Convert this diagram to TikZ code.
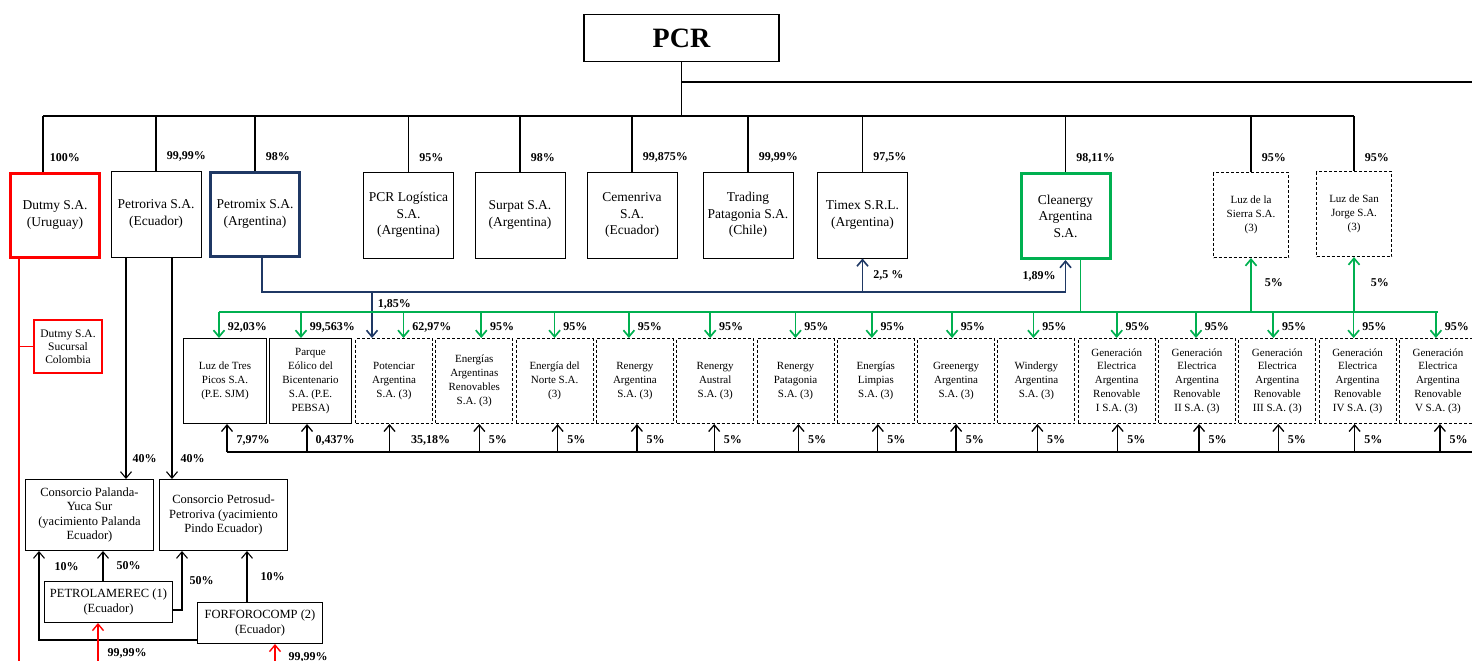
\documentclass[tikz,border=0pt]{standalone}
\usepackage{fontspec}
\setmainfont{Liberation Serif}
\usetikzlibrary{arrows.meta,positioning}
\definecolor{pcrnavy}{RGB}{31,56,100}
\definecolor{pcrgreen}{RGB}{0,176,80}
\definecolor{pcrred}{RGB}{255,0,0}
\tikzset{>={Straight Barb[length=6.5pt,width=11pt]}}
\tikzset{firm/.style={draw,line width=1pt,align=center,inner sep=2pt,minimum width=90pt,minimum height=86pt,font=\fontsize{13.5}{16.5}\selectfont},
         sub/.style={draw,line width=1pt,dash pattern=on 3pt off 2pt,align=center,inner sep=1pt,minimum width=77pt,minimum height=85pt,font=\fontsize{11}{13.8}\selectfont},
         solidsub/.style={sub,solid},
         cons/.style={draw,line width=1pt,align=center,inner sep=2pt,font=\fontsize{12.5}{14.5}\selectfont},
         pct/.style={font=\bfseries\fontsize{12}{14}\selectfont,inner sep=1pt},
         mainline/.style={line width=1.8pt},
         thinline/.style={line width=1.1pt},
         navyline/.style={draw=pcrnavy,line width=1.6pt},
         greenline/.style={draw=pcrgreen,line width=1.7pt},
         redline/.style={draw=pcrred,line width=1.4pt},
            }

\begin{document}
\begin{tikzpicture}[x=1pt,y=-1pt]
    \clip (0,0) rectangle (1472,661);

    % top
    \node[draw,line width=1.5pt,minimum width=195pt,minimum height=47pt,font=\bfseries\fontsize{28}{30}\selectfont] (pcr) at (681.5,38) {PCR};

    \node[firm,draw=pcrred,line width=3pt,minimum width=89pt,minimum height=84pt] (dutmy) at (55,215) {Dutmy S.A.\\(Uruguay)};
    \node[firm] (petroriva) at (156,214) {Petroriva S.A.\\(Ecuador)};
    \node[firm,draw=pcrnavy,line width=3pt,minimum width=89pt,minimum height=84pt] (petromix) at (255,214) {Petromix S.A.\\(Argentina)};
    \node[firm] (pcrlog) at (408.5,215) {PCR Logística\\S.A.\\(Argentina)};
    \node[firm] (surpat) at (520,215) {Surpat S.A.\\(Argentina)};
    \node[firm] (cemenriva) at (632,215) {Cemenriva\\S.A.\\(Ecuador)};
    \node[firm] (trading) at (748,215) {Trading\\Patagonia S.A.\\(Chile)};
    \node[firm] (timex) at (862.5,215) {Timex S.R.L.\\(Argentina)};
    \node[firm,draw=pcrgreen,line width=3pt,minimum width=89pt,minimum height=85pt] (cleanergy) at (1065.5,216) {Cleanergy\\Argentina\\S.A.};
    \node[sub,minimum width=75pt] (sierra) at (1251,215) {Luz de la\\Sierra S.A.\\(3)};
    \node[sub,minimum width=75pt] (sanjorge) at (1354,214) {Luz de San\\Jorge S.A.\\(3)};

    \node[draw=pcrred,line width=2pt,align=center,minimum width=68pt,minimum height=53pt,font=\fontsize{11.5}{13}\selectfont] (sucursal) at (68,346.5) {Dutmy S.A.\\Sucursal\\Colombia};

    % renewables row
    \node[solidsub,minimum width=83pt] (tres) at (225,381) {Luz de Tres\\Picos S.A.\\(P.E. SJM)};
    \node[solidsub,minimum width=82pt,right=2pt of tres] (pebsa) {Parque\\Eólico del\\Bicentenario\\S.A. (P.E.\\PEBSA)};
    \node[sub,right=3pt of pebsa] (potenciar) {Potenciar\\Argentina\\S.A. (3)};
    \node[sub,right=2.3pt of potenciar] (ear) {Energías\\Argentinas\\Renovables\\S.A. (3)};
    \node[sub,right=2.3pt of ear] (norte) {Energía del\\Norte S.A.\\(3)};
    \node[sub,right=2.3pt of norte] (rarg) {Renergy\\Argentina\\S.A. (3)};
    \node[sub,right=2.3pt of rarg] (raus) {Renergy\\Austral\\S.A. (3)};
    \node[sub,right=2.3pt of raus] (rpat) {Renergy\\Patagonia\\S.A. (3)};
    \node[sub,right=2.3pt of rpat] (limp) {Energías\\Limpias\\S.A. (3)};
    \node[sub,right=2.3pt of limp] (gren) {Greenergy\\Argentina\\S.A. (3)};
    \node[sub,right=2.3pt of gren] (wind) {Windergy\\Argentina\\S.A. (3)};
    \node[sub,right=2.3pt of wind] (gen1) {Generación\\Electrica\\Argentina\\Renovable\\I S.A. (3)};
    \node[sub,right=2.3pt of gen1] (gen2) {Generación\\Electrica\\Argentina\\Renovable\\II S.A. (3)};
    \node[sub,right=2.3pt of gen2] (gen3) {Generación\\Electrica\\Argentina\\Renovable\\III S.A. (3)};
    \node[sub,right=2.3pt of gen3] (gen4) {Generación\\Electrica\\Argentina\\Renovable\\IV S.A. (3)};
    \node[sub,right=2.3pt of gen4] (gen5) {Generación\\Electrica\\Argentina\\Renovable\\V S.A. (3)};

    % Ecuador
    \node[cons,minimum width=128pt,minimum height=71pt] (palanda) at (89.5,515) {Consorcio Palanda-\\Yuca Sur\\(yacimiento Palanda\\Ecuador)};
    \node[cons,minimum width=128pt,minimum height=71pt,right=5pt of palanda] (petrosud) {Consorcio Petrosud-\\Petroriva (yacimiento\\Pindo Ecuador)};
    \node[cons,minimum width=128pt,minimum height=41pt] (petrolamerec) at (108.5,602) {PETROLAMEREC (1)\\(Ecuador)};
    \node[cons,minimum width=125pt,minimum height=41pt] (forforocomp) at (260,623) {FORFOROCOMP (2)\\(Ecuador)};

    % PCR holdings
    \coordinate (bar) at (0,116);
    \coordinate (pcrright) at (1480,82);
    \draw[mainline] (pcr.south) -- (pcr.south |- bar);
    \draw[mainline] (pcr.south |- pcrright) -- (pcrright);
    \draw[mainline] ([xshift=-12pt]dutmy.north |- bar) -- (sanjorge.north |- bar);
    \draw[mainline] ([xshift=-12pt]dutmy.north |- bar) -- node[pct,pos=.75,anchor=west,xshift=5pt] {100\%} ([xshift=-12pt]dutmy.north);
    \foreach \n/\p in {petroriva/{99,99\%},petromix/{98\%},pcrlog/{95\%},surpat/{98\%},cemenriva/{99,875\%},trading/{99,99\%},timex/{97,5\%},cleanergy/{98,11\%},sierra/{95\%},sanjorge/{95\%}}
        \draw[mainline] (\n.north |- bar) -- node[pct,pos=.75,anchor=west,xshift=9pt] {\p} (\n.north);

    % Dutmy
    \coordinate (redend) at (19,670);
    \draw[redline] ([xshift=-36pt]dutmy.south) -- (redend);
    \draw[redline] (sucursal.west) -- (sucursal.west -| redend);

    % Petroriva
    \draw[thinline,->] ([xshift=-30pt]petroriva.south) -- node[pct,pos=.91,anchor=west,xshift=5pt] {40\%} ([xshift=-30pt]petroriva.south |- palanda.north);
    \draw[thinline,->] ([xshift=16pt]petroriva.south) -- node[pct,pos=.91,anchor=west,xshift=7pt] {40\%} ([xshift=16pt]petroriva.south |- petrosud.north);
    \draw[thinline,->] ([xshift=-5.5pt]petrolamerec.north) -- node[pct,pos=.5,anchor=west,xshift=12pt] {50\%} ([xshift=-5.5pt]petrolamerec.north |- palanda.south);
    \draw[thinline,->] ([yshift=-8pt]petrolamerec.east) -| node[pct,pos=.75,anchor=west,xshift=6pt] {50\%} ([xshift=-41.5pt]petrosud.south);
    \draw[thinline,->] ([xshift=-13pt]forforocomp.north) -- node[pct,pos=.5,anchor=west,xshift=12pt] {10\%} ([xshift=-13pt]forforocomp.north |- petrosud.south);
    \draw[thinline,->] ([yshift=-17pt]forforocomp.west) -| node[pct,pos=.91,anchor=west,xshift=14pt] {10\%} ([xshift=-50.5pt]palanda.south);
    \coordinate (redA) at (98,670);
    \coordinate (redB) at (275,670);
    \draw[redline,->] (redA) -- node[pct,pos=.36,anchor=west,xshift=8pt] {99,99\%} (redA |- petrolamerec.south);
    \draw[redline,->] (redB) -- node[pct,pos=.5,anchor=west,xshift=12pt] {99,99\%} (redB |- forforocomp.south);

    % Petromix
    \coordinate (nv) at (0,292);
    \draw[navyline,->] ([xshift=7pt]petromix.south) |- (cleanergy.south |- nv) -- node[pct,anchor=east,xshift=-8pt] {1,89\%} (cleanergy.south);
    \draw[navyline,->] (timex.south |- nv) -- node[pct,anchor=west,xshift=9pt] {2,5 \%} (timex.south);
    \draw[navyline,->] ([xshift=-22pt]potenciar.north |- nv) -- node[pct,pos=.26,anchor=west,xshift=4pt] {1,85\%} ([xshift=-22pt]potenciar.north);

    % Cleanergy
    \coordinate (gr) at (0,312);
    \draw[draw=pcrgreen,line width=1pt] ([xshift=14.5pt]cleanergy.south) -- ([xshift=14.5pt]cleanergy.south |- gr);
    \draw[greenline] ([xshift=-6pt]tres.north |- gr) -- (gen5.north |- gr);
    \foreach \n/\s/\p in {tres/-6/{92,03\%},pebsa/-9.5/{99,563\%},potenciar/9.5/{62,97\%},ear/7/{95\%},norte/0/{95\%},rarg/-6/{95\%},raus/-5/{95\%},rpat/0/{95\%},limp/-4/{95\%},gren/-4/{95\%},wind/-3/{95\%},gen1/0/{95\%},gen2/-1/{95\%},gen3/-4/{95\%},gen4/-4/{95\%},gen5/-2/{95\%}}
        \draw[greenline,->] ([xshift=\s pt]\n.north |- gr) -- node[pct,pos=.58,anchor=west,xshift=7pt] {\p} ([xshift=\s pt]\n.north);
    \draw[greenline,->] (sierra.south |- gr) -- node[pct,pos=.54,anchor=west,xshift=12pt] {5\%} (sierra.south);
    \draw[greenline,->] (sanjorge.south |- gr) -- node[pct,pos=.54,anchor=west,xshift=15pt] {5\%} (sanjorge.south);

    % minority stakes from PCR
    \coordinate (bk) at (1480,452);
    \draw[line width=1.5pt] ([xshift=2pt]tres.south |- bk) -- (bk);
    \foreach \n/\s/\p/\l in {tres/2/{7,97\%}/8,pebsa/-3.5/{0,437\%}/7,potenciar/-4.5/{35,18\%}/20,ear/5/{5\%}/8,norte/3/{5\%}/8,rarg/2/{5\%}/8,raus/-1/{5\%}/8,rpat/3/{5\%}/8,limp/2/{5\%}/8,gren/0/{5\%}/8,wind/1/{5\%}/8,gen1/1/{5\%}/8,gen2/2/{5\%}/8,gen3/1/{5\%}/8,gen4/-3/{5\%}/8,gen5/2/{5\%}/8}
        \draw[line width=1.3pt,->] ([xshift=\s pt]\n.south |- bk) -- node[pct,pos=.43,anchor=west,xshift=\l pt] {\p} ([xshift=\s pt]\n.south);

\end{tikzpicture}
\end{document}
